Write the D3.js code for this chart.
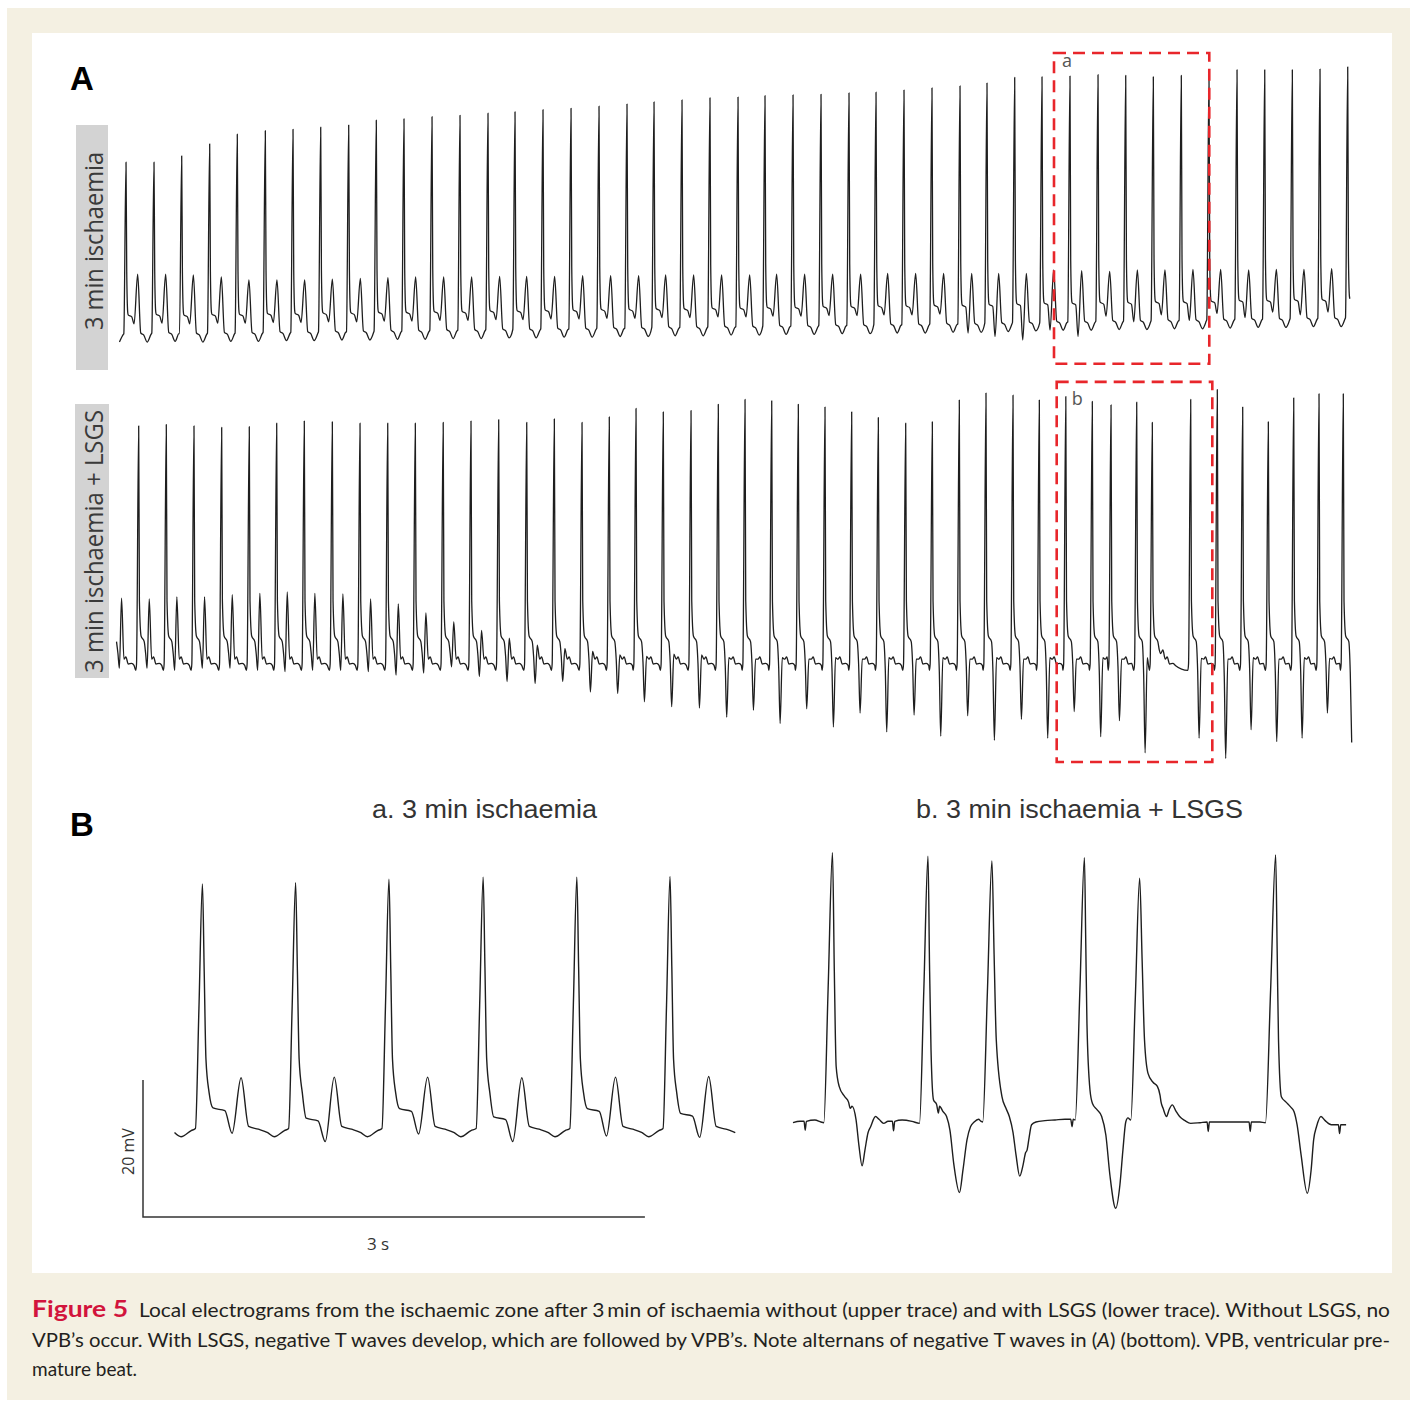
<!DOCTYPE html>
<html><head><meta charset="utf-8">
<script src="https://cdn.jsdelivr.net/npm/d3@7"></script>
<style>html,body{margin:0;padding:0;background:#fff}svg{display:block}</style>
</head><body>
<svg id="c" width="1418" height="1402"></svg>
<script>
// ---------------- DATA ----------------
// Panel A, upper trace (3 min ischaemia): R-peak times (s), R height, T height, notch, diastolic trough (mV)
const upperTimes = [-0.41,0.167,0.750,1.327,1.910,2.485,3.069,3.646,4.223,4.806,5.381,5.958,6.542,7.125,7.708,8.271,8.854,9.438,10.021,10.604,11.167,11.750,12.333,12.917,13.479,14.063,14.646,15.229,15.792,16.375,16.958,17.542,18.104,18.681,19.250,19.833,20.417,20.994,21.569,22.152,22.729,23.313,23.890,24.465,25.042,25.619];
const upperR = [24,24.4,24.4,25.3,27.0,28.4,28.9,29.1,29.4,29.7,30.4,30.6,30.9,31.1,31.4,31.6,31.9,32.1,32.4,32.7,33.0,33.3,33.6,33.7,33.9,34.0,34.1,34.3,34.4,34.7,35.0,35.3,35.7,36.5,36.6,36.7,36.9,36.8,36.6,36.8,36.9,37.6,37.6,37.6,37.7,38.0];
const upperT = [8.4,8.4,8.4,8.3,8.0,7.6,7.6,7.6,7.7,7.8,7.9,8.0,8.0,8.0,8.1,8.1,8.1,8.2,8.2,8.2,8.3,8.3,8.3,8.3,8.4,8.4,8.4,8.4,8.5,8.5,8.5,8.5,8.5,8.5,9.0,8.9,8.8,9.0,9.0,9.1,9.1,9.0,9.1,9.1,9.2,9.2];
const upperV = [-1.3,-1.3,-1.2,-1.3,-1.2,-1.2,-1.1,-1.1,-1.0,-1.0,-0.9,-0.9,-0.8,-0.8,-0.7,-0.7,-0.6,-0.6,-0.5,-0.5,-0.4,-0.4,-0.3,-0.3,-0.2,-0.2,-0.1,-0.1,0.0,0.0,0.1,0.1,0.2,0.3,0.4,0.4,0.5,0.5,0.6,0.6,0.7,0.8,0.8,0.9,0.9,1.0];
const upperN = [1.3,1.3,1.4,1.3,1.4,1.4,1.5,1.5,1.6,1.6,1.7,1.7,1.8,1.8,1.9,1.9,2.0,2.0,2.1,2.1,2.2,2.2,2.3,2.3,2.4,2.4,2.5,2.5,2.6,2.6,2.7,0.0,-0.5,-1.0,0.4,-0.5,2.4,1.6,2.6,1.8,2.8,2.2,3.0,2.6,3.0,3.0];
const upperSpan = [0.02, 25.72];

// Panel A, lower trace (3 min ischaemia + LSGS)
const lowerTimes = [-0.146,0.431,1.006,1.583,2.160,2.735,3.306,3.881,4.465,5.042,5.619,6.194,6.775,7.354,7.931,8.515,9.090,9.667,10.235,10.792,11.360,11.938,12.506,13.063,13.619,14.173,14.729,15.285,15.840,16.410,16.965,17.527,18.083,18.646,19.194,19.746,20.298,20.688,21.223,21.548,22.348,22.902,23.431,23.965,24.494,25.021,25.527];
const lowerR = [34.0,34.0,34.2,34.0,33.8,33.9,34.4,34.7,34.6,34.4,34.4,34.4,34.5,34.7,34.9,34.5,35.0,34.5,35.3,36.5,36.0,36.2,37.1,37.8,37.6,37.1,36.7,36.0,35.2,34.4,34.6,37.7,38.7,38.4,37.7,38.2,37.5,37.0,37.4,34.5,37.8,39.2,36.7,34.6,38.0,38.6,38.6];
const lowerT = [9.4,9.3,9.6,9.6,9.9,10.1,10.3,10.1,10.0,9.3,8.6,7.3,6.0,4.8,3.7,2.7,2.2,1.8,1.3,1.1,1.4,1.3,0.9,0.7,0.9,0.7,0.9,0.7,0.9,0.7,0.9,0.7,0.9,0.7,0.9,0.7,0.9,0.7,0.9,2.0,0.8,0.7,0.9,0.7,0.9,0.8,0.8];
const lowerN = [-0.6,-0.6,-0.9,-0.6,-0.6,-0.9,-1.1,-0.9,-0.9,-1.1,-1.6,-1.3,-0.4,-1.8,-2.5,-2.8,-2.5,-4.0,-4.2,-5.4,-6.1,-6.3,-7.6,-6.6,-8.5,-6.4,-9.0,-7.0,-9.7,-7.3,-10.3,-7.4,-10.9,-7.9,-10.6,-6.8,-10.4,-8.1,-12.7,1.5,-10.6,-13.5,-9.4,-11.1,-10.6,-7.0,-11.2];
const lowerSpan = [-0.04, 25.73];

// Highlight windows in panel A: [t0, t1, vTop, vBottom]
const boxA = [19.50, 22.735, 40.0, -4.4];
const boxB = [19.556, 22.798, 40.3, -14.0];
const boxLabels = ["a", "b"];

// Panel B left (a. 3 min ischaemia)
const blTimes = [-0.381,0.176,0.733,1.291,1.854,2.414,2.971];
const blR = [36.4,36.4,36.6,37.1,37.4,37.4,37.5];
const blT = [8.1,8.1,8.2,8.2,8.1,8.2,8.3];
const blN = [0,0,-1.2,-0.1,-1.2,-0.4,-0.6];
const blS = [3.3,3.3,1.8,3.2,2.0,3.2,2.5];
const blSpan = [0, 3.371];

const brT = [0.000,0.042,0.066,0.073,0.080,0.131,0.167,0.184,0.210,0.236,0.247,0.258,0.276,0.309,0.332,0.342,0.353,0.377,0.394,0.413,0.430,0.448,0.464,0.493,0.514,0.542,0.568,0.594,0.601,0.608,0.652,0.711,0.756,0.782,0.807,0.816,0.825,0.840,0.858,0.869,0.876,0.897,0.918,0.938,0.962,0.995,1.016,1.040,1.061,1.083,1.109,1.124,1.134,1.162,1.189,1.202,1.215,1.249,1.273,1.293,1.315,1.333,1.355,1.375,1.390,1.399,1.411,1.426,1.452,1.506,1.566,1.626,1.660,1.668,1.675,1.687,1.715,1.742,1.750,1.757,1.775,1.790,1.817,1.845,1.870,1.894,1.929,1.954,1.972,1.989,2.002,2.019,2.046,2.072,2.087,2.101,2.122,2.152,2.178,2.194,2.200,2.212,2.233,2.248,2.267,2.289,2.311,2.343,2.377,2.433,2.475,2.482,2.489,2.570,2.660,2.726,2.733,2.740,2.791,2.824,2.855,2.885,2.894,2.902,2.919,2.947,2.974,2.995,3.013,3.037,3.074,3.097,3.112,3.129,3.156,3.181,3.218,3.260,3.267,3.274,3.306];
const brV = [-0.1,0.1,0.1,-1.2,0.1,0.3,0.0,-0.1,19.5,39.3,22.0,8.1,5.2,3.7,2.9,2.0,2.3,0.3,-3.4,-6.4,-4.1,-1.6,-0.7,0.8,0.4,-0.2,0.1,0.1,-1.3,0.1,0.3,0.1,-0.2,19.3,38.8,23.0,10.5,3.2,2.6,1.3,2.3,1.5,0.8,-1.2,-6.3,-10.3,-7.0,-2.6,-0.7,0.0,0.4,0.1,0.0,19.0,38.1,24.5,12.0,3.7,2.0,0.8,-1.5,-4.8,-7.9,-6.3,-4.5,-4.1,-2.3,-0.4,0.0,0.2,0.3,0.4,0.4,-0.7,0.4,0.3,19.4,38.6,26.0,14.4,4.7,2.7,1.8,0.8,-1.9,-7.7,-12.6,-9.2,-4.1,0.0,0.6,0.3,18.0,35.6,23.5,12.0,7.1,5.8,5.2,3.9,2.9,2.0,0.8,1.8,2.5,1.6,0.8,0.2,-0.2,-0.1,0.0,-1.4,0.0,0.0,0.0,0.0,-1.4,0.0,0.0,-0.1,19.4,39.0,25.0,12.0,3.7,2.9,2.2,1.5,-0.4,-4.8,-10.4,-7.0,-2.6,-0.7,0.8,0.2,-0.4,-0.4,-1.7,-0.4,-0.4];

// Scale bar values
const scaleBarMV = 20, scaleBarS = 3;
const scaleBarLabels = ["20 mV", "3 s"];

// Texts
const panelLetters = ["A", "B"];
const traceLabels = ["3 min ischaemia", "3 min ischaemia + LSGS"];
const panelBTitles = ["a. 3 min ischaemia", "b. 3 min ischaemia + LSGS"];
const captionHead = "Figure 5";
const captionLine1 = "Local electrograms from the ischaemic zone after 3\u2009min of ischaemia without (upper trace) and with LSGS (lower trace). Without LSGS, no";
const captionLine2a = "VPB\u2019s occur. With LSGS, negative T waves develop, which are followed by VPB\u2019s. Note alternans of negative T waves in (";
const captionLine2b = "A";
const captionLine2c = ") (bottom). VPB, ventricular pre-";
const captionLine3 = "mature beat.";

// ---------------- DRAWING ----------------
const svg = d3.select('#c');
svg.append('rect').attr('width',1418).attr('height',1402).attr('fill','#ffffff');
svg.append('rect').attr('x',7).attr('y',8).attr('width',1403).attr('height',1392).attr('fill','#f4f0e2');
svg.append('rect').attr('x',32).attr('y',33).attr('width',1360).attr('height',1240).attr('fill','#ffffff');

const pxPerMV_A = 7, pxPerMV_B = 6.85;
const xA = d3.scaleLinear().domain([0, 25.8]).range([118, 118 + 25.8 * 48]);
const yAU = d3.scaleLinear().domain([0, 40]).range([333, 333 - 40 * pxPerMV_A]);
const yAL = d3.scaleLinear().domain([0, 40]).range([664, 664 - 40 * pxPerMV_A]);
const xBL = d3.scaleLinear().domain([0, 3.4]).range([173, 173 + 3.4 * 167.3]);
const yBL = d3.scaleLinear().domain([0, 40]).range([1133.3, 1133.3 - 40 * pxPerMV_B]);
const xBR = d3.scaleLinear().domain([0, 3.4]).range([793, 793 + 3.4 * 167.3]);
const yBR = d3.scaleLinear().domain([0, 40]).range([1122, 1122 - 40 * pxPerMV_B]);

function buildTrace(times, knots, span) {
  const pts = [];
  const first = d3.min(knots, k => k[0]);
  times.forEach((t0, i) => {
    const limit = i < times.length - 1 ? times[i + 1] + first : Infinity;
    knots.forEach(k => {
      const t = t0 + k[0];
      if (t >= limit || t < span[0] || t > span[1]) return;
      pts.push([t, k[1](i)]);
    });
  });
  return pts;
}

const upperKnots = [
  [-0.046, i => upperV[i] + 1.2],
  [0, i => upperR[i]],
  [0.015, i => upperV[i] + 10],
  [0.035, i => upperV[i] + 4.3],
  [0.045, i => upperV[i] + 3.9],
  [0.12, i => upperV[i] + 3.6],
  [0.168, i => upperN[i]],
  [0.243, i => upperT[i]],
  [0.307, i => upperV[i] + 1.3],
  [0.37, i => upperV[i] + 1.0],
  [0.44, i => upperV[i]],
  [0.52, i => upperV[i] + 1.1]
];
const lowerKnots = [
  [-0.06, i => -0.9],
  [-0.045, i => 0],
  [0, i => lowerR[i]],
  [0.015, i => 9],
  [0.05, i => 4.0],
  [0.115, i => 3.2],
  [0.145, i => 1.65 + 0.25 * lowerN[i]],
  [0.175, i => lowerN[i]],
  [0.22, i => lowerT[i]],
  [0.27, i => 0.7],
  [0.31, i => 1.0],
  [0.36, i => 0],
  [0.43, i => 0.1],
  [0.48, i => -0.2]
];
const blKnots = [
  [-0.042, i => 0.7],
  [-0.021, i => blR[i] * 0.5],
  [0, i => blR[i]],
  [0.0105, i => blR[i] * 0.65],
  [0.021, i => 10.8],
  [0.04, i => 5.9],
  [0.063, i => blS[i] + 0.4],
  [0.134, i => blS[i]],
  [0.177, i => blN[i]],
  [0.231, i => blT[i]],
  [0.276, i => 1.0],
  [0.334, i => 0.6],
  [0.39, i => 0.1],
  [0.429, i => -0.5],
  [0.49, i => 0.4]
];

function drawLine(pts, x, y, w) {
  const line = d3.line().x(d => x(d[0])).y(d => y(d[1])).curve(d3.curveMonotoneX);
  svg.append('path').attr('d', line(pts)).attr('fill', 'none')
    .attr('stroke', '#1e1e1e').attr('stroke-width', w).attr('stroke-linejoin', 'round');
}

drawLine(buildTrace(upperTimes, upperKnots, upperSpan), xA, yAU, 1.3);
drawLine(buildTrace(lowerTimes, lowerKnots, lowerSpan), xA, yAL, 1.3);
drawLine(buildTrace(blTimes, blKnots, blSpan), xBL, yBL, 1.4);
drawLine(brT.map((t, i) => [t, brV[i]]), xBR, yBR, 1.4);

// Highlight boxes
[[boxA, yAU], [boxB, yAL]].forEach(([b, y], k) => {
  svg.append('rect')
    .attr('x', xA(b[0])).attr('y', y(b[2]))
    .attr('width', xA(b[1]) - xA(b[0])).attr('height', y(b[3]) - y(b[2]))
    .attr('fill', 'none').attr('stroke', '#e8262b').attr('stroke-width', 2.6)
    .attr('stroke-dasharray', '12 7');
  svg.append('text').text(boxLabels[k])
    .attr('x', xA(b[0]) + (k === 0 ? 8 : 15)).attr('y', y(b[2]) + (k === 0 ? 14 : 23))
    .attr('font-family', "'Open Sans', sans-serif").attr('font-size', 18).attr('fill', '#555');
});

// Panel letters
[[70, 89.5], [70, 836]].forEach((p, i) => {
  svg.append('text').text(panelLetters[i]).attr('x', p[0]).attr('y', p[1])
    .attr('font-family', "'Liberation Sans', Arial, sans-serif").attr('font-weight', 'bold')
    .attr('font-size', 33).attr('fill', '#000');
});

// Trace labels in grey boxes
[[76, 125, 32, 245, 241, 178], [75, 404, 34, 274, 541.5, 263]].forEach((b, i) => {
  svg.append('rect').attr('x', b[0]).attr('y', b[1]).attr('width', b[2]).attr('height', b[3]).attr('fill', '#d3d3d3');
  svg.append('text').text(traceLabels[i])
    .attr('transform', `translate(102.5,${b[4]}) rotate(-90)`)
    .attr('text-anchor', 'middle')
    .attr('textLength', b[5]).attr('lengthAdjust', 'spacingAndGlyphs')
    .attr('font-family', "'Open Sans', sans-serif").attr('font-size', 26).attr('fill', '#3a3a3a');
});

// Panel B titles
[[372, 225], [916, 327]].forEach((p, i) => {
  svg.append('text').text(panelBTitles[i]).attr('x', p[0]).attr('y', 818)
    .attr('textLength', p[1]).attr('lengthAdjust', 'spacingAndGlyphs')
    .attr('font-family', "'Liberation Sans', Arial, sans-serif").attr('font-size', 26).attr('fill', '#333');
});

// Scale bars
const sbX0 = 143, sbY0 = 1217;
const sbLenX = xBL(scaleBarS) - xBL(0);
const sbLenY = yBL(0) - yBL(scaleBarMV);
svg.append('path')
  .attr('d', `M${sbX0},${sbY0 - sbLenY}V${sbY0}H${sbX0 + sbLenX}`)
  .attr('fill', 'none').attr('stroke', '#333').attr('stroke-width', 1.5);
svg.append('text').text(scaleBarLabels[0])
  .attr('transform', `translate(134,${sbY0 - sbLenY / 2 + 3}) rotate(-90)`)
  .attr('text-anchor', 'middle')
  .attr('font-family', "'Open Sans', sans-serif").attr('font-size', 16).attr('fill', '#333');
svg.append('text').text(scaleBarLabels[1])
  .attr('x', 378).attr('y', 1250).attr('text-anchor', 'middle')
  .attr('font-family', "'Open Sans', sans-serif").attr('font-size', 17).attr('fill', '#333');

// Caption
const capFont = "Lato, 'Open Sans', sans-serif";
svg.append('text').text(captionHead).attr('x', 32).attr('y', 1317)
  .attr('textLength', 96).attr('lengthAdjust', 'spacingAndGlyphs')
  .attr('font-family', capFont).attr('font-weight', 'bold').attr('font-size', 22).attr('fill', '#d2143c');
svg.append('text').text(captionLine1).attr('x', 139).attr('y', 1317)
  .attr('textLength', 1251).attr('lengthAdjust', 'spacingAndGlyphs')
  .attr('font-family', capFont).attr('font-size', 19).attr('fill', '#231f20');
const l2 = svg.append('text').attr('x', 32).attr('y', 1347)
  .attr('textLength', 1358).attr('lengthAdjust', 'spacingAndGlyphs')
  .attr('font-family', capFont).attr('font-size', 19).attr('fill', '#231f20');
l2.append('tspan').text(captionLine2a);
l2.append('tspan').text(captionLine2b).attr('font-style', 'italic');
l2.append('tspan').text(captionLine2c);
svg.append('text').text(captionLine3).attr('x', 32).attr('y', 1376)
  .attr('font-family', capFont).attr('font-size', 19).attr('fill', '#231f20');
</script>
</body></html>
